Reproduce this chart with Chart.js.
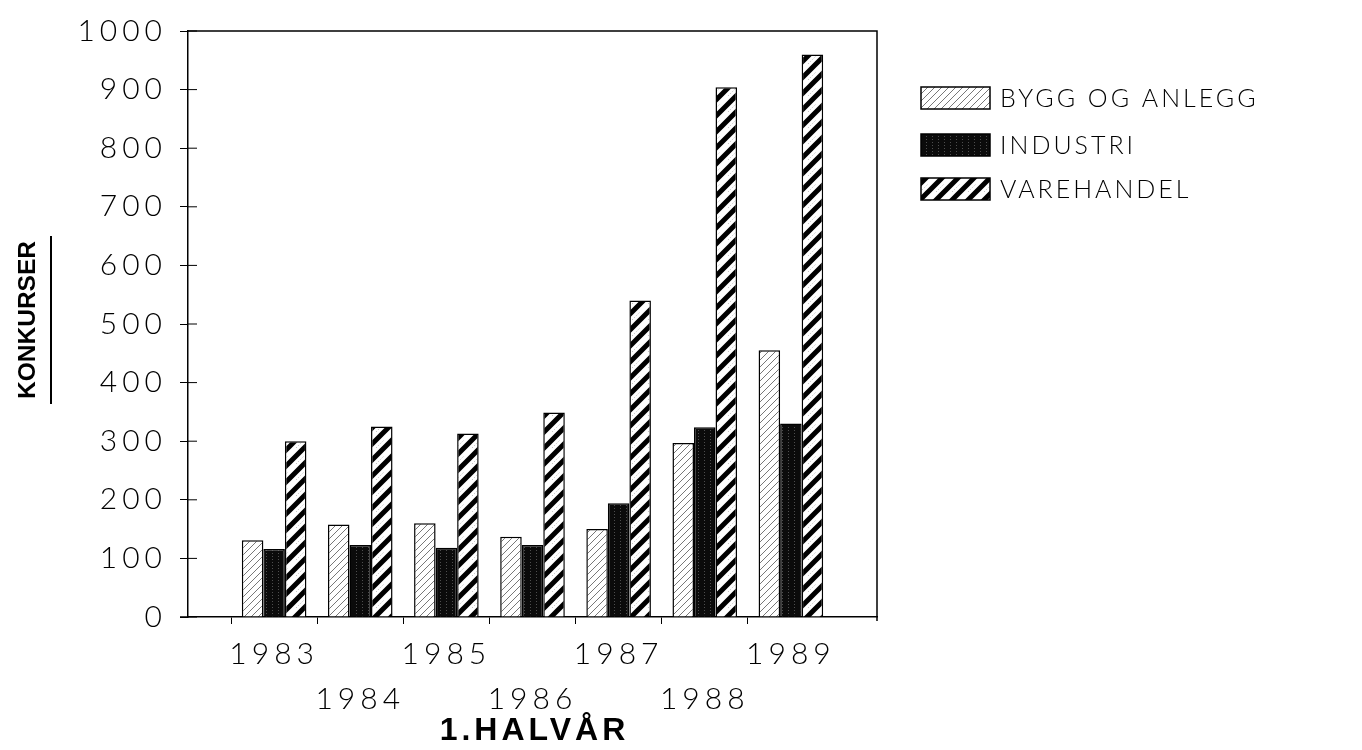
<!DOCTYPE html>
<html>
<head>
<meta charset="utf-8">
<script src="https://cdn.jsdelivr.net/npm/chart.js@4"></script>
<style>
  html, body { margin: 0; padding: 0; background: #fff; }
  canvas { display: block; }
</style>
</head>
<body>
<canvas id="chart" width="1362" height="750"></canvas>
<script>
// data
const years = ['1983', '1984', '1985', '1986', '1987', '1988', '1989'];
const byggOgAnlegg = [131, 158, 160, 137, 150, 297, 455];
const industri = [116, 123, 118, 123, 194, 324, 330];
const varehandel = [300, 325, 313, 349, 540, 904, 960];
const seriesNames = ['BYGG OG ANLEGG', 'INDUSTRI', 'VAREHANDEL'];
const yMin = 0, yMax = 1000, yStep = 100;
const yTitle = 'KONKURSER';
const xTitle = '1.HALVÅR';

const plotFont = "Lato";

// one empty slot on each side, so the years sit one step in from the frame
const labels = [''].concat(years, ['']);
const pad = arr => [null].concat(arr, [null]);

// fill patterns
function makePattern(size, draw) {
    const c = document.createElement('canvas');
    c.width = size; c.height = size;
    const g = c.getContext('2d');
    draw(g, size);
    return g.createPattern(c, 'repeat');
}
const byggFill = makePattern(7, (g, s) => {
    g.fillStyle = '#fff'; g.fillRect(0, 0, s, s);
    g.strokeStyle = '#555'; g.lineWidth = 0.8;
    g.beginPath();
    g.moveTo(0, s); g.lineTo(s, 0);
    g.moveTo(-1, 1); g.lineTo(1, -1);
    g.moveTo(s - 1, s + 1); g.lineTo(s + 1, s - 1);
    g.stroke();
});
const industriFill = makePattern(6, (g, s) => {
    g.fillStyle = '#0b0b0b'; g.fillRect(0, 0, s, s);
    g.fillStyle = 'rgba(255,255,255,0.28)';
    g.fillRect(2, 1, 1, 1);
    g.fillRect(2, 4, 1, 1);
});
const vareFill = makePattern(16, (g, s) => {
    g.fillStyle = '#fff'; g.fillRect(0, 0, s, s);
    g.strokeStyle = '#000'; g.lineWidth = 5;
    g.beginPath();
    g.moveTo(0, s); g.lineTo(s, 0);
    g.moveTo(-4, 4); g.lineTo(4, -4);
    g.moveTo(s - 4, s + 4); g.lineTo(s + 4, s - 4);
    g.stroke();
    g.strokeStyle = '#999'; g.lineWidth = 0.8;
    g.setLineDash([1, 2]);
    g.beginPath();
    g.moveTo(s / 2 - 4, s + 4); g.lineTo(s + 4, s / 2 - 4);
    g.stroke();
});

// letter spacing for the plotter-like lettering
const spacing = {
    id: 'spacing',
    beforeUpdate(chart) { chart.ctx.letterSpacing = '5px'; },
    beforeDraw(chart) { chart.ctx.letterSpacing = '5px'; }
};

// frame, inner tick stubs, titles and legend
const decorations = {
    id: 'decorations',
    afterDraw(chart) {
        const ctx = chart.ctx;
        const a = chart.chartArea;
        const ys = chart.scales.y;
        ctx.save();
        ctx.strokeStyle = '#000';
        ctx.lineWidth = 1.5;
        ctx.beginPath();
        ctx.moveTo(a.left, a.top); ctx.lineTo(a.right, a.top);
        ctx.lineTo(a.right, a.bottom + 4);
        ctx.moveTo(a.left - 8, a.bottom); ctx.lineTo(a.left, a.bottom);
        ctx.stroke();
        ctx.lineWidth = 1;
        ys.ticks.forEach(t => {
            const py = ys.getPixelForValue(t.value);
            ctx.beginPath();
            ctx.moveTo(a.left, py); ctx.lineTo(a.left + 9, py);
            ctx.stroke();
        });

        // y title, condensed bold, with underline
        ctx.fillStyle = '#000';
        ctx.letterSpacing = '0px';
        ctx.font = "bold 30px 'Liberation Sans'";
        const w = ctx.measureText(yTitle).width;
        const cy = (238 + 402) / 2;
        ctx.save();
        ctx.translate(27, cy);
        ctx.rotate(-Math.PI / 2);
        ctx.scale(158 / w, 0.82);
        ctx.textAlign = 'center';
        ctx.textBaseline = 'middle';
        ctx.fillText(yTitle, 0, 1);
        ctx.restore();
        ctx.lineWidth = 2;
        ctx.beginPath();
        ctx.moveTo(51, 236); ctx.lineTo(51, 404);
        ctx.stroke();

        // x title
        ctx.font = "bold 32px 'Liberation Sans'";
        ctx.letterSpacing = '4px';
        ctx.textAlign = 'center';
        ctx.textBaseline = 'middle';
        ctx.fillText(xTitle, (a.left + a.right) / 2 + 2, 731);

        // legend
        ctx.font = "300 25px " + plotFont;
        ctx.letterSpacing = '3px';
        ctx.textAlign = 'left';
        const rows = [98, 145, 189];
        chart.data.datasets.forEach((ds, i) => {
            const y = rows[i];
            ctx.fillStyle = ds.backgroundColor;
            ctx.fillRect(921, y - 11, 69, 22);
            ctx.lineWidth = 1.5;
            ctx.strokeStyle = '#000';
            ctx.strokeRect(921, y - 11, 69, 22);
            ctx.fillStyle = '#000';
            ctx.fillText(ds.label, 1000, y + 1);
        });
        ctx.restore();
    }
};

const barStyle = {
    borderColor: '#000',
    borderWidth: 1.5,
    categoryPercentage: 0.75,
    barPercentage: 1.0
};

new Chart(document.getElementById('chart'), {
    type: 'bar',
    data: {
        labels: labels,
        datasets: [
            { label: seriesNames[0], data: pad(byggOgAnlegg), backgroundColor: byggFill, ...barStyle },
            { label: seriesNames[1], data: pad(industri), backgroundColor: industriFill, ...barStyle },
            { label: seriesNames[2], data: pad(varehandel), backgroundColor: vareFill, ...barStyle }
        ]
    },
    options: {
        responsive: false,
        animation: false,
        events: [],
        layout: { padding: { left: 0, right: 485, top: 23, bottom: 0 } },
        plugins: {
            legend: { display: false },
            tooltip: { enabled: false }
        },
        scales: {
            x: {
                offset: false,
                border: { color: '#000', width: 1.5 },
                grid: {
                    drawOnChartArea: false,
                    tickLength: 7,
                    tickColor: c => (c.index === 0 || c.index === labels.length - 1) ? 'rgba(0,0,0,0)' : '#000'
                },
                ticks: {
                    autoSkip: false,
                    maxRotation: 0,
                    padding: 8,
                    color: '#000',
                    font: { family: plotFont, size: 30, weight: 300, lineHeight: 1.5 },
                    callback: function (val, i) {
                        const lab = this.getLabelForValue(val);
                        if (!lab) return '';
                        return i % 2 === 1 ? [lab, ''] : ['', lab];
                    }
                },
                afterFit: s => { s.height = 133; }
            },
            y: {
                min: yMin,
                max: yMax,
                border: { color: '#000', width: 1.5 },
                grid: { drawOnChartArea: false, tickLength: 8, tickColor: '#000' },
                ticks: {
                    stepSize: yStep,
                    padding: 13,
                    color: '#000',
                    font: { family: plotFont, size: 30, weight: 300 },
                    callback: v => String(v)
                },
                afterFit: s => { s.width = 188; }
            }
        }
    },
    plugins: [spacing, decorations]
});
</script>
</body>
</html>
